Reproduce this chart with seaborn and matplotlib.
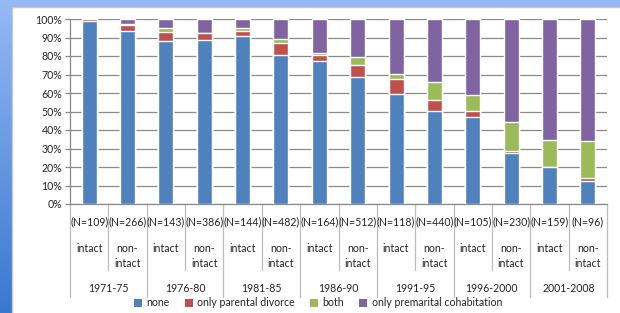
import numpy as np
import matplotlib
matplotlib.use("Agg")
import matplotlib.pyplot as plt
import matplotlib.colors as mcolors
from matplotlib.patches import Patch, Rectangle
import seaborn as sns

sns.set_style("white")
plt.rcParams["font.family"] = ["Lato", "DejaVu Sans"]

# data (percent of each cohort)
periods = ["1971-75", "1976-80", "1981-85", "1986-90", "1991-95", "1996-2000", "2001-2008"]
status = ["intact", "non-\nintact"]
n_labels = ["(N=109)", "(N=266)", "(N=143)", "(N=386)", "(N=144)", "(N=482)", "(N=164)",
            "(N=512)", "(N=118)", "(N=440)", "(N=105)", "(N=230)", "(N=159)", "(N=96)"]
none = [99.1, 93.3, 88.3, 88.8, 90.6, 80.7, 77.4, 68.6, 59.4, 50.2, 46.9, 27.3, 20.2, 12.3]
divorce = [0.9, 3.6, 4.7, 3.6, 3.1, 6.1, 2.9, 6.3, 8.3, 5.8, 3.5, 1.6, 0.0, 2.0]
both = [0.0, 0.6, 2.1, 0.0, 1.4, 2.4, 1.5, 4.7, 2.7, 10.1, 8.6, 15.3, 14.5, 19.8]
cohab = [0.0, 2.5, 4.9, 7.6, 4.9, 10.8, 18.2, 20.4, 29.6, 33.9, 41.0, 55.8, 65.3, 65.9]

series = ["none", "only parental divorce", "both", "only premarital cohabitation"]
colors = ["#4F81BD", "#C0504D", "#9BBB59", "#8064A2"]
txt = "#262626"
fs = 7.6

cats = [f"{p} {s}" for p in periods for s in ["intact", "non-intact"]]
layers = [np.array(none), np.array(divorce), np.array(both), np.array(cohab)]
cum = np.cumsum(layers, axis=0)

fig = plt.figure(figsize=(6.2, 3.13), dpi=100)
fig.patch.set_facecolor("white")

# blue frame of the slide
bg = fig.add_axes([0, 0, 1, 1], zorder=-5)
bg.add_patch(Rectangle((0, 0), 620, 6.5, color="#95b9f5", lw=0))
cmap = mcolors.LinearSegmentedColormap.from_list("band", ["#95b9f5", "#3a78cf"])
bg.imshow(np.linspace(0, 1, 200).reshape(-1, 1), cmap=cmap, aspect="auto",
          extent=(0, 11.5, 313, 0))
bg.plot([11.5, 11.5], [6.5, 313], color="#c8c8c8", lw=1)
bg.plot([11.5, 620], [6.5, 6.5], color="#c8c8c8", lw=1)
bg.set_xlim(0, 620)
bg.set_ylim(313, 0)
bg.axis("off")

ax = fig.add_axes([70 / 620, 1 - 204 / 313, (607 - 70) / 620, (204 - 19) / 313])
for k in range(3, -1, -1):
    sns.barplot(x=cats, y=cum[k], order=cats, color=colors[k], saturation=1,
                width=0.39, ax=ax, zorder=2 + (3 - k))

ax.set_xlim(-0.5, len(cats) - 0.5)
ax.set_ylim(0, 100)
ax.set_yticks(np.arange(0, 101, 10))
ax.set_yticklabels([f"{v}%" for v in range(0, 101, 10)], fontsize=fs, color=txt)
ax.yaxis.grid(True, color="#8a8a8a", lw=0.9)
ax.set_axisbelow(True)
ax.tick_params(axis="y", length=3.5, width=0.9, color="#8a8a8a", pad=2, left=True)
ax.set_xticks([])
ax.set_xlabel("")
ax.set_ylabel("")
for s in ["top", "right"]:
    ax.spines[s].set_visible(False)
for s in ["left", "bottom"]:
    ax.spines[s].set_color("#8a8a8a")
    ax.spines[s].set_linewidth(0.9)

# category table under the axis
tr = ax.get_xaxis_transform()
def yax(ypix):
    return (204 - ypix) / 185

for i in range(len(cats) + 1):
    bottom = 297 if i % 2 == 0 else 270
    ax.plot([i - 0.5, i - 0.5], [0, yax(bottom)], transform=tr, clip_on=False,
            color="#bdbdbd", lw=0.9)
for i, lab in enumerate(n_labels):
    ax.text(i, yax(222), lab, transform=tr, ha="center", va="center", fontsize=fs, color=txt)
    ax.text(i, yax(243), status[i % 2], transform=tr, ha="center", va="top",
            fontsize=fs, color=txt, linespacing=1.4)
for j, p in enumerate(periods):
    ax.text(2 * j + 0.5, yax(288), p, transform=tr, ha="center", va="center",
            fontsize=fs, color=txt)

handles = [Patch(facecolor=c, edgecolor="none") for c in colors]
fig.legend(handles, series, loc="center", bbox_to_anchor=(318 / 620, 1 - 303 / 313),
           ncol=4, frameon=False, fontsize=fs, handlelength=0.75, handleheight=0.75,
           handletextpad=0.45, columnspacing=1.4, labelcolor=txt, borderpad=0)

fig.savefig("out.png", dpi=100)
